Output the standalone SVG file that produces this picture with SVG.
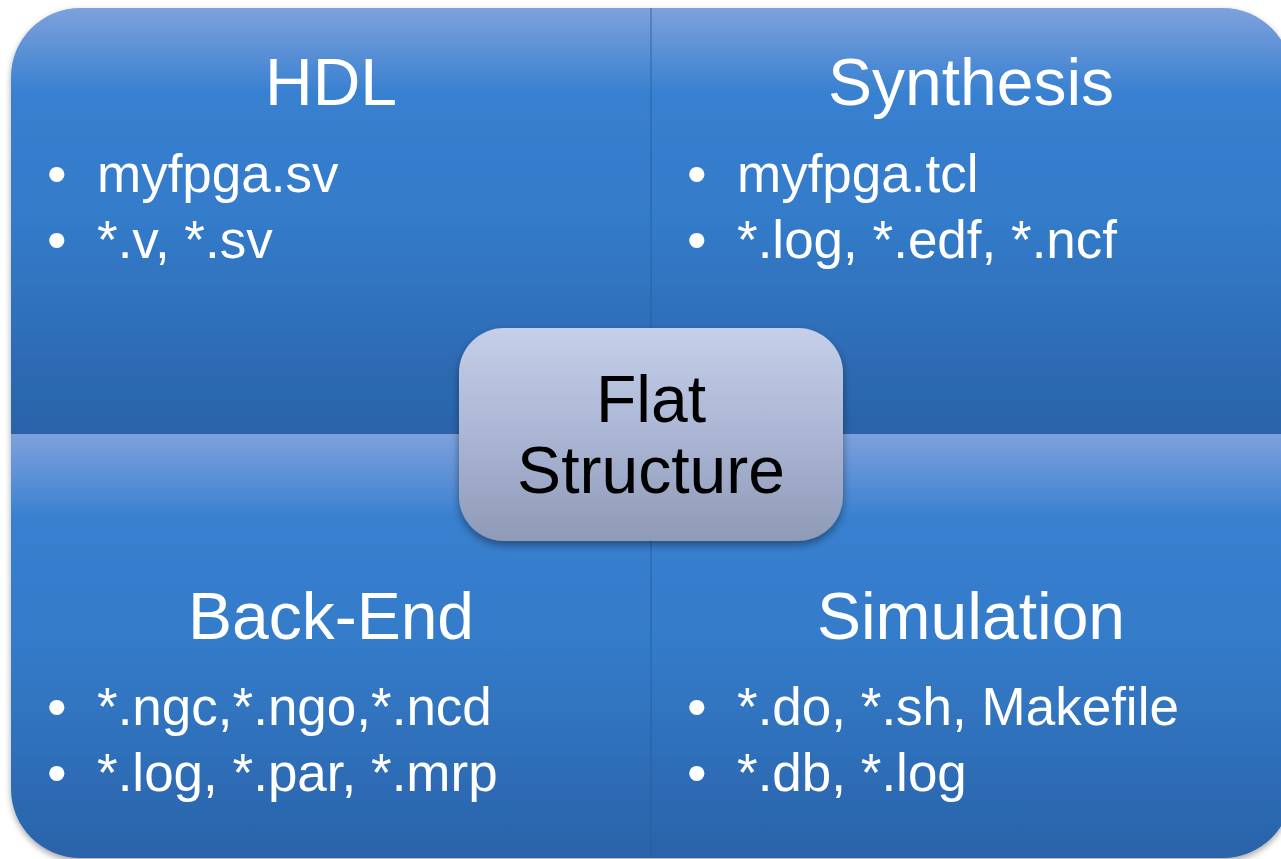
<svg xmlns="http://www.w3.org/2000/svg" width="1281" height="859" viewBox="0 0 1281 859">
  <defs>
    <linearGradient id="quadFill" x1="0" y1="0" x2="0" y2="1">
      <stop offset="0" stop-color="#7ea1dc"/>
      <stop offset="0.2" stop-color="#3880d0"/>
      <stop offset="0.5" stop-color="#337bc9"/>
      <stop offset="1" stop-color="#2a63a9"/>
    </linearGradient>
    <linearGradient id="hubFill" x1="0" y1="0" x2="0" y2="1">
      <stop offset="0" stop-color="#c5cfe9"/>
      <stop offset="0.5" stop-color="#aab6d4"/>
      <stop offset="1" stop-color="#8e9ab6"/>
    </linearGradient>
    <filter id="softShadow" x="-5%" y="-5%" width="110%" height="115%">
      <feDropShadow dx="0" dy="3" stdDeviation="3" flood-color="#000" flood-opacity="0.35"/>
    </filter>
    <filter id="hubShadow" x="-10%" y="-10%" width="120%" height="130%">
      <feDropShadow dx="0" dy="4" stdDeviation="4" flood-color="#000" flood-opacity="0.4"/>
    </filter>
  </defs>
  <style>
    .quad { fill: url(#quadFill); }
    .title { font-family: "Liberation Sans", Arial, sans-serif; font-size: 66px; fill: #ffffff; text-anchor: middle; }
    .item { font-family: "Liberation Sans", Arial, sans-serif; font-size: 53px; fill: #ffffff; }
    .dot { font-family: "Liberation Sans", Arial, sans-serif; font-size: 56px; fill: #ffffff; }
    .hub-text { font-family: "Liberation Sans", Arial, sans-serif; font-size: 66px; fill: #000000; text-anchor: middle; }
  </style>

  <rect width="1281" height="859" fill="#ffffff"/>

  <!-- four quadrants forming one rounded block -->
  <g filter="url(#softShadow)">
    <g id="hdl">
      <path class="quad" d="M11,434 V77 A69,69 0 0 1 80,8 H651 V434 Z"/>
      <text class="title" x="331" y="105">HDL</text>
      <text class="dot" x="47" y="193">•</text>
      <text class="item" x="97" y="192">myfpga.sv</text>
      <text class="dot" x="47" y="259">•</text>
      <text class="item" x="97" y="258">*.v, *.sv</text>
    </g>
    <g id="synthesis">
      <path class="quad" d="M651,8 H1223 A69,69 0 0 1 1292,77 V434 H651 Z"/>
      <text class="title" x="971" y="105">Synthesis</text>
      <text class="dot" x="687" y="193">•</text>
      <text class="item" x="737" y="192">myfpga.tcl</text>
      <text class="dot" x="687" y="259">•</text>
      <text class="item" x="737" y="258">*.log, *.edf, *.ncf</text>
    </g>
    <g id="backend">
      <path class="quad" d="M11,434 H651 V858 H80 A69,69 0 0 1 11,789 Z"/>
      <text class="title" x="331" y="639">Back-End</text>
      <text class="dot" x="47" y="726">•</text>
      <text class="item" x="97" y="725">*.ngc,*.ngo,*.ncd</text>
      <text class="dot" x="47" y="792">•</text>
      <text class="item" x="97" y="791">*.log, *.par, *.mrp</text>
    </g>
    <g id="simulation">
      <path class="quad" d="M651,434 H1292 V789 A69,69 0 0 1 1223,858 H651 Z"/>
      <text class="title" x="971" y="639">Simulation</text>
      <text class="dot" x="687" y="726">•</text>
      <text class="item" x="737" y="725">*.do, *.sh, Makefile</text>
      <text class="dot" x="687" y="792">•</text>
      <text class="item" x="737" y="791">*.db, *.log</text>
    </g>
  </g>

  <!-- seam between left and right quadrants -->
  <g id="connectors">
    <line x1="651" y1="8" x2="651" y2="858" stroke="#2a5d9c" stroke-width="1.2" stroke-opacity="0.7"/>
  </g>

  <!-- central hub -->
  <g id="flat-structure" filter="url(#hubShadow)">
    <rect x="459" y="328" width="384" height="213" rx="45" ry="45" fill="url(#hubFill)"/>
    <text class="hub-text" x="651" y="422">Flat</text>
    <text class="hub-text" x="651" y="493">Structure</text>
  </g>
</svg>
